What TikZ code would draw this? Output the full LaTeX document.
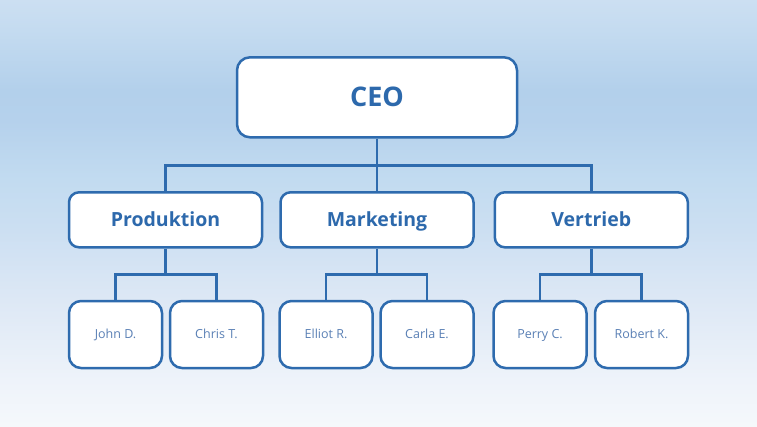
\documentclass[tikz,border=0pt]{standalone}
\usepackage{fontspec}
\setmainfont{Open Sans}
\definecolor{lineblue}{HTML}{2E6BAE}
\definecolor{headblue}{HTML}{2D69AC}
\definecolor{nameblue}{HTML}{5A80B5}
\definecolor{bgA}{HTML}{CCDFF2}
\definecolor{bgB}{HTML}{C4DBF0}
\definecolor{bgC}{HTML}{B3D0EB}
\definecolor{bgD}{HTML}{B5D1EC}
\definecolor{bgE}{HTML}{C2DBF0}
\definecolor{bgF}{HTML}{CCDFF2}
\definecolor{bgG}{HTML}{DDE8F5}
\definecolor{bgH}{HTML}{EEF3FA}
\definecolor{bgI}{HTML}{F5F8FB}
\pgfdeclareverticalshading{bgshade}{100bp}{%
  color(0bp)=(bgI); color(25bp)=(bgI); color(30.4bp)=(bgH); color(39.8bp)=(bgG);
  color(48bp)=(bgF); color(53.9bp)=(bgE); color(60.9bp)=(bgD); color(64.4bp)=(bgC);
  color(71.5bp)=(bgB); color(75bp)=(bgA); color(100bp)=(bgA)}
\tikzset{
  box/.style={draw=lineblue, line width=2.5pt, fill=white, inner sep=0pt, text depth=0pt},
  ceobox/.style={box, rounded corners=13pt, minimum width=280pt, minimum height=80pt,
    text=headblue, font=\bfseries\fontsize{27}{30}\selectfont, text height=19.3pt},
  deptbox/.style={box, rounded corners=10pt, minimum width=193pt, minimum height=55pt,
    text=headblue, font=\bfseries\fontsize{19.5}{22}\selectfont, text height=13.9pt},
  personbox/.style={box, rounded corners=12pt, minimum width=93pt, minimum height=67pt,
    text=nameblue, font=\fontsize{12.5}{15}\selectfont, text height=8.9pt},
  conn/.style={draw=lineblue, line width=2.5pt}
}
\begin{document}
\begin{tikzpicture}[x=1pt,y=-1pt]
\shade[shading=bgshade] (0,0) rectangle (757,426);
\useasboundingbox (0,0) rectangle (757,426);
% nodes
\node[ceobox] (ceo) at (377,97.3) {CEO};
\node[deptbox] (prod) at (165.5,219.8) {Produktion};
\node[deptbox] (mkt) at (377,219.8) {Marketing};
\node[deptbox] (vert) at (591.3,219.8) {Vertrieb};
\node[personbox] (john) at (115.5,334.5) {John D.};
\node[personbox] (chris) at (216.5,334.5) {Chris T.};
\node[personbox] (elliot) at (326,334.5) {Elliot R.};
\node[personbox] (carla) at (427,334.5) {Carla E.};
\node[personbox] (perry) at (540,334.5) {Perry C.};
\node[personbox] (robert) at (641.5,334.5) {Robert K.};
% bus coordinates
\coordinate (bus) at (377,165.5);
\coordinate (pbus) at (165.5,274.5);
\coordinate (mbus) at (377,274.5);
\coordinate (vbus) at (591.3,274.5);
% connectors
\draw[conn] (ceo.south) -- (mkt.north);
\draw[conn] (prod.north) |- (bus) -| (vert.north);
\draw[conn] (prod.south) -- (pbus);
\draw[conn] (john.north) |- (pbus) -| (chris.north);
\draw[conn] (mkt.south) -- (mbus);
\draw[conn] (elliot.north) |- (mbus) -| (carla.north);
\draw[conn] (vert.south) -- (vbus);
\draw[conn] (perry.north) |- (vbus) -| (robert.north);
\end{tikzpicture}
\end{document}
